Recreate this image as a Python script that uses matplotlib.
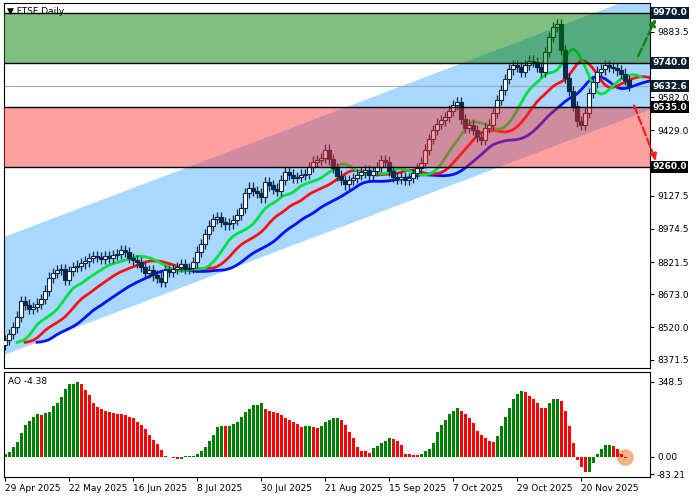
import numpy as np
import matplotlib
matplotlib.use("Agg")
import matplotlib.pyplot as plt
from matplotlib.patches import Rectangle, Polygon

closes = [8463,8490,8520,8570,8640,8625,8605,8615,8630,8650,8690,8750,8770,8785,8790,8740,
          8780,8800,8805,8815,8825,8840,8850,8845,8835,8850,8840,8855,8860,8875,8868,8840,
          8830,8820,8800,8770,8785,8760,8750,8730,8785,8775,8790,8800,8812,8790,8795,8820,
          8870,8905,8950,8990,9020,9030,9005,8995,9000,9015,9040,9070,9140,9165,9150,9140,
          9120,9190,9175,9160,9150,9200,9235,9225,9210,9215,9225,9228,9260,9285,9292,9300,
          9340,9295,9255,9220,9200,9180,9200,9210,9225,9235,9245,9225,9240,9260,9290,9285,
          9240,9215,9205,9215,9200,9210,9230,9255,9280,9340,9390,9430,9460,9475,9490,9520,
          9545,9560,9480,9440,9455,9430,9400,9385,9440,9455,9510,9570,9615,9665,9710,9730,
          9720,9700,9730,9750,9745,9720,9700,9790,9860,9905,9920,9800,9670,9610,9540,9470,
          9455,9510,9600,9650,9700,9710,9730,9720,9715,9705,9690,9660,9632.6]
open0 = 8440
ao_values = [10,21,43,67,109,146,166,185,199,196,202,209,234,249,280,317,338,341,348,340,
             312,288,249,231,220,213,206,203,201,199,195,185,180,163,149,128,102,78,57,33,
             4,-3,-8,-12,-10,2,3,4,10,24,45,75,99,138,142,141,143,152,163,185,206,223,241,243,
             249,223,212,206,205,192,178,170,163,152,140,141,142,138,135,142,160,170,178,180,
             170,149,114,85,47,28,24,18,38,50,64,75,85,81,71,53,14,10,9,7,10,24,35,64,114,149,
             173,199,213,227,213,199,180,156,121,99,85,71,70,95,142,185,227,270,294,308,302,
             284,270,249,227,226,249,270,271,260,213,142,64,-14,-48,-72,-70,-28,14,35,52,53,
             50,35,14,-4.38]
date_labels = ["29 Apr 2025","22 May 2025","16 Jun 2025","8 Jul 2025","30 Jul 2025",
               "21 Aug 2025","15 Sep 2025","7 Oct 2025","29 Oct 2025","20 Nov 2025"]
zone_green = (9740.0, 9970.0)
zone_red = (9260.0, 9535.0)
last_price = 9632.6
price_ticks = [9883.5, 9582.0, 9429.0, 9127.5, 8974.5, 8821.5, 8673.0, 8520.0, 8371.5]
channel_low = (8393, 7.0)   # start price at left edge, slope per bar
channel_width = 544

c = np.array(closes, float)
n = len(c)
o = np.concatenate([[open0], c[:-1]])
wick = 24
h = np.maximum(o, c) + wick
l = np.minimum(o, c) - wick
med = (h + l) / 2
x = np.arange(n)

def smma(v, p):
    out = np.empty_like(v)
    out[0] = v[0]
    for i in range(1, len(v)):
        out[i] = (out[i-1] * (p - 1) + v[i]) / p
    return out

fig = plt.figure(figsize=(7, 5), dpi=100)
ax = fig.add_axes([4/700, 132/500, 646/700, 365/500])
ax2 = fig.add_axes([4/700, 23/500, 646/700, 105/500])
x0, x1 = -0.25, 161.25
ax.set_xlim(x0, x1); ax.set_ylim(8333, 10016)

xl = np.array([x0 - 5, x1 + 10])
lo = channel_low[0] + channel_low[1] * (xl - x0)
ax.add_patch(Polygon([[xl[0], lo[0]], [xl[1], lo[1]], [xl[1], lo[1] + channel_width],
                      [xl[0], lo[0] + channel_width]], closed=True, fc="#A8D8FF", ec="none", zorder=0))
ax.axhline(last_price, color="#A0A8B0", lw=0.8, zorder=1)

for p, s, col in [(13, 8, "#0010FF"), (8, 5, "#FF1010"), (5, 3, "#00E040")]:
    ax.plot(x + s, smma(med, p), color=col, lw=2, zorder=2)

for i in range(n):
    up = c[i] >= o[i]
    ax.vlines(i, l[i], h[i], color="#0A2848", lw=0.9, zorder=3)
    b0 = min(o[i], c[i]); bh = max(abs(c[i] - o[i]), 3)
    ax.add_patch(Rectangle((i - 0.38, b0), 0.76, bh, fc="white" if up else "#0A2848",
                           ec="#0A2848", lw=0.8, zorder=4))

ax.add_patch(Rectangle((x0, zone_green[0]), x1 - x0, zone_green[1] - zone_green[0],
                       fc=(0, 0.5, 0), alpha=0.5, ec="none", zorder=5))
ax.add_patch(Rectangle((x0, zone_red[0]), x1 - x0, zone_red[1] - zone_red[0],
                       fc=(1, 0.18, 0.18), alpha=0.45, ec="none", zorder=5))
for yv in (zone_green + zone_red):
    ax.axhline(yv, color="black", lw=1, zorder=6)

ax.annotate("", xy=(163, 9955), xytext=(158, 9760), annotation_clip=False,
            arrowprops=dict(arrowstyle="-|>", ls="--", color="#108010", lw=1.6), zorder=7)
ax.annotate("", xy=(163, 9275), xytext=(157, 9555), annotation_clip=False,
            arrowprops=dict(arrowstyle="-|>", ls="--", color="#F02020", lw=1.6), zorder=7)

ax.yaxis.tick_right()
ax.set_yticks(price_ticks)
ax.set_yticklabels([f"{t:.1f}" for t in price_ticks], fontsize=6.5)
ax.tick_params(axis="y", length=3, pad=2)
ax.set_xticks([])
for yv, bg in [(9970.0, "#0A2030"), (9740.0, "#0A2030"), (last_price, "#0A2030"),
               (9535.0, "black"), (9260.0, "black")]:
    ax.text(1.004, yv, f"{yv:.1f}", transform=ax.get_yaxis_transform(), fontsize=6.5,
            color="white", va="center", ha="left", fontweight="bold",
            bbox=dict(boxstyle="square,pad=0.15", fc=bg, ec="none"), zorder=10, clip_on=False)
ax.text(0.004, 0.99, "▼ FTSE,Daily", transform=ax.transAxes, fontsize=6.5, va="top", ha="left")

ao = np.array(ao_values, float)
cols = ["#008000" if i == 0 or ao[i] > ao[i-1] else "#FF0000" for i in range(len(ao))]
ax2.bar(np.arange(len(ao)), ao, width=0.75, color=cols)
ax2.set_xlim(x0, x1); ax2.set_ylim(-95, 395)
ax2.yaxis.tick_right()
ax2.set_yticks([348.5, 0.0, -83.21])
ax2.set_yticklabels(["348.5", "0.00", "-83.21"], fontsize=6.5)
ax2.tick_params(axis="y", length=3, pad=2)
ax2.set_xticks(np.arange(0, 160, 16))
ax2.set_xticklabels(date_labels, fontsize=6.5, ha="left")
ax2.tick_params(axis="x", length=3, pad=2)
ax2.text(0.006, 0.95, "AO -4.38", transform=ax2.transAxes, fontsize=6.5, va="top")
ax2.scatter([len(ao) - 1], [ao[-1] + 5], s=120, color="#F8A070", alpha=0.8, zorder=0)

for a in (ax, ax2):
    for sp in a.spines.values():
        sp.set_linewidth(0.8)
fig.savefig("out.png", dpi=100)
